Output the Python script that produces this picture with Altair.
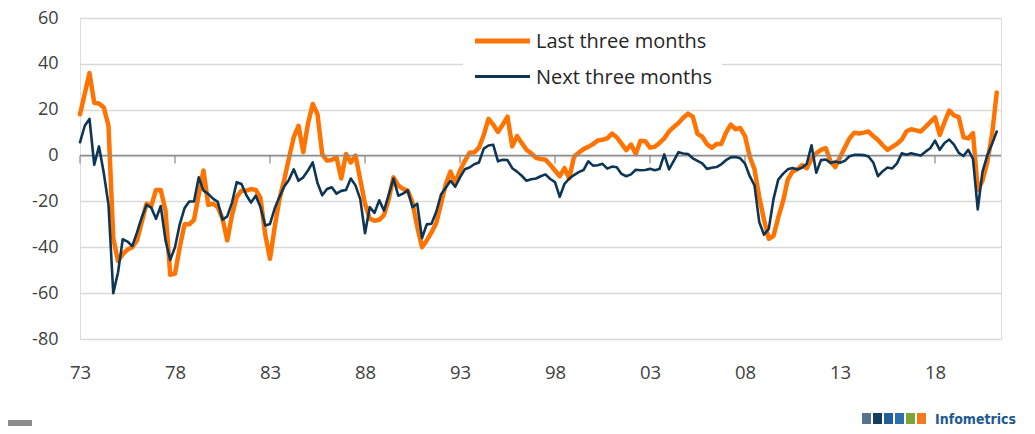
import altair as alt
import pandas as pd

START_YEAR = 1973  # first quarter = 1973 Q1, quarterly data

# "Last three months" (orange)
last_three = [
    18, 27, 36, 23,          # 1973
    22.7, 21, 13, -36,       # 1974
    -46, -43, -41, -40,      # 1975
    -37, -29, -21, -22,      # 1976
    -15, -15, -24, -52,      # 1977
    -51.5, -40, -30, -30,    # 1978
    -28, -17, -6.5, -21.5,   # 1979
    -21, -22.5, -27.5, -37,  # 1980
    -26, -18, -15.3, -15.3,  # 1981
    -14.6, -15, -18.5, -34.5,  # 1982
    -45, -31, -19, -10.5,    # 1983
    -1, 8, 13, 1.5,          # 1984
    14, 22.5, 18, 0.5,       # 1985
    -2.2, -1.9, -0.7, -10,   # 1986
    0.7, -3, 0, -10.5,       # 1987
    -21, -27.5, -28.4, -28,  # 1988
    -26, -19, -9.5, -13,     # 1989
    -14.5, -15.3, -20.5, -31,  # 1990
    -40, -37, -33.5, -29.5,  # 1991
    -21, -12.5, -7, -12,     # 1992
    -6.5, -2.4, 1.2, 1.4,    # 1993
    3.5, 9, 16, 13.5,        # 1994
    10.3, 13.5, 17, 4,       # 1995
    8.5, 5.5, 2.5, 1,        # 1996
    -1, -1.5, -1.8, -4,      # 1997
    -6.5, -9, -5.5, -10,     # 1998
    -0.5, 1.2, 2.8, 3.8,     # 1999
    5, 6.6, 6.9, 7.5,        # 2000
    9.6, 8, 5.2, 2.4,        # 2001
    4.8, 0.7, 6.5, 6.3,      # 2002
    3.5, 3.8, 5.5, 7.5,      # 2003
    10.5, 12.5, 14.2, 16.5,  # 2004
    18.3, 17, 9.5, 8.2,      # 2005
    5, 3.4, 5, 5,            # 2006
    10, 13.5, 11.5, 12,      # 2007
    8.5, -0.5, -6, -18,      # 2008
    -28, -36.3, -35, -27,    # 2009
    -20, -10.5, -7, -6,      # 2010
    -4.2, -5.5, -1.5, 1,     # 2011
    2.5, 3.3, -2.5, -5,      # 2012
    -0.7, 3.4, 7.5, 10,      # 2013
    9.6, 10, 10.5, 8.5,      # 2014
    6.8, 4.5, 2.5, 3.8,      # 2015
    5.1, 7, 10.6, 11.5,      # 2016
    11, 10.5, 12.5, 14.6,    # 2017
    16.7, 9, 14.6, 19.6,     # 2018
    17.5, 16.8, 8, 7.5,      # 2019
    9.8, -15, -11, -3,       # 2020
    9, 27.5,                 # 2021
]

# "Next three months" (navy)
next_three = [
    5.8, 13, 16, -4,         # 1973
    4, -7.5, -21.5, -60,     # 1974
    -51, -36.5, -37.5, -39.5,  # 1975
    -33.5, -27, -21.5, -22.7,  # 1976
    -27.6, -22, -37, -45.5,  # 1977
    -40, -30, -23, -20,      # 1978
    -20, -9.5, -15.3, -16.7,  # 1979
    -18.8, -20.2, -28, -26.5,  # 1980
    -20.5, -11.6, -12.4, -17.2,  # 1981
    -20.5, -17.5, -22.5, -30.5,  # 1982
    -29.8, -23, -18, -13.5,  # 1983
    -10.5, -6, -11, -9.5,    # 1984
    -6.5, -3, -12, -17.3,    # 1985
    -14.6, -13.8, -16.6, -15.4,  # 1986
    -15, -10, -13, -19,      # 1987
    -33.9, -22.5, -25, -19.5,  # 1988
    -24, -17, -10, -17.5,    # 1989
    -16.6, -15.2, -22.5, -21,  # 1990
    -36, -30, -29.7, -24.5,  # 1991
    -17, -14, -11, -13.6,    # 1992
    -9.5, -6, -5.2, -3.8,    # 1993
    -3, 3, 4.4, 4.7,         # 1994
    -2.5, -1.8, -2, -5.5,    # 1995
    -7, -8.8, -11, -10.3,    # 1996
    -10, -9, -8.2, -10.2,    # 1997
    -11.6, -18, -12.3, -10,  # 1998
    -8.5, -7.2, -6.3, -2.5,  # 1999
    -4.4, -4.2, -3.6, -5.7,  # 2000
    -4.8, -5.1, -8, -9,      # 2001
    -8.2, -6.2, -6.4, -6.3,  # 2002
    -5.8, -6.4, -5.9, 0.5,   # 2003
    -6, -2.3, 1.5, 0.9,      # 2004
    0.7, -1.2, -2.3, -3.4,   # 2005
    -5.8, -5.3, -5, -3.8,    # 2006
    -2, -0.8, -0.6, -1.2,    # 2007
    -3.5, -9, -13, -29,      # 2008
    -34.5, -32, -19, -10.5,  # 2009
    -8, -6, -5.4, -6.1,      # 2010
    -5.3, -3.6, 4.5, -7.5,   # 2011
    -2, -1.7, -3.2, -2.6,    # 2012
    -3.1, -2.3, -0.3, 0.3,   # 2013
    0.3, 0.2, -0.4, -3,      # 2014
    -9, -6.8, -5.2, -5.6,    # 2015
    -3.4, 1, 0.4, 1,         # 2016
    0.5, 0, 1.7, 3.2,        # 2017
    6.5, 2.5, 5.5, 7,        # 2018
    4.8, 1.2, -0.2, 2.5,     # 2019
    -1.5, -23.5, -7, 0,      # 2020
    5, 10.5,                 # 2021
]

tick_years = [1973, 1978, 1983, 1988, 1993, 1998, 2003, 2008, 2013, 2018]
y_ticks = [-80, -60, -40, -20, 0, 20, 40, 60]

ORANGE = "#FF7300"
NAVY = "#0D3656"
TEXT = "#404040"
FONT = "Open Sans"

W, H = 921, 321
XMAX = START_YEAR + W / 19.0


def frame(vals, name):
    return pd.DataFrame({
        "t": [START_YEAR + i / 4 for i in range(len(vals))],
        "v": vals,
        "series": name,
    })


df_last = frame(last_three, "Last three months")
df_next = frame(next_three, "Next three months")

x_enc = alt.X(
    "t:Q",
    title=None,
    scale=alt.Scale(domain=[START_YEAR, XMAX], nice=False, zero=False),
    axis=alt.Axis(
        values=tick_years, labelExpr="slice(toString(datum.value), 2)",
        grid=False, domain=False, ticks=False, tickSize=0, labelPadding=24,
        labelFont=FONT, labelFontSize=18.5, labelColor=TEXT, labelFlush=False,
    ),
)
y_enc = alt.Y(
    "v:Q",
    title=None,
    scale=alt.Scale(domain=[-80, 60], nice=False, zero=False),
    axis=alt.Axis(
        values=y_ticks, labelExpr="toString(datum.value)",
        grid=True, gridColor="#d9d9d9", gridWidth=1.3, domain=False,
        ticks=False, tickSize=0, labelPadding=22,
        labelFont=FONT, labelFontSize=18, labelColor=TEXT,
    ),
)

dummy = pd.DataFrame({"a": [0]})

legend_box = alt.Chart(dummy).mark_rect(color="white").encode(
    x=alt.value(383), x2=alt.value(642), y=alt.value(5), y2=alt.value(82)
)

zero_df = pd.DataFrame({"t": [START_YEAR], "v": [0]})
zero_line = alt.Chart(zero_df).mark_rule(color="#8a8a8a", strokeWidth=1.4).encode(
    y="v:Q"
)

ticks_df = pd.DataFrame({"t": tick_years, "v": [0] * len(tick_years),
                         "v2": [-3.5] * len(tick_years)})
tick_marks = alt.Chart(ticks_df).mark_rule(color="#8a8a8a", strokeWidth=1.2).encode(
    x="t:Q", y="v:Q", y2="v2:Q"
)

line_last = alt.Chart(df_last).mark_line(
    color=ORANGE, strokeWidth=4.5, strokeJoin="round", strokeCap="round"
).encode(x=x_enc, y=y_enc)

line_next = alt.Chart(df_next).mark_line(
    color=NAVY, strokeWidth=2.6, strokeJoin="round", strokeCap="round"
).encode(x="t:Q", y="v:Q")

leg_line1 = alt.Chart(dummy).mark_rule(color=ORANGE, strokeWidth=5).encode(
    x=alt.value(395), x2=alt.value(450), y=alt.value(23)
)
leg_line2 = alt.Chart(dummy).mark_rule(color=NAVY, strokeWidth=2.8).encode(
    x=alt.value(395), x2=alt.value(450), y=alt.value(58.5)
)
leg_text1 = alt.Chart(dummy).mark_text(
    text="Last three months", align="left", baseline="alphabetic",
    font=FONT, fontSize=20, color="#262626"
).encode(x=alt.value(456), y=alt.value(30))
leg_text2 = alt.Chart(dummy).mark_text(
    text="Next three months", align="left", baseline="alphabetic",
    font=FONT, fontSize=20, color="#262626"
).encode(x=alt.value(456), y=alt.value(66))

# Infometrics logo (decoration, bottom right)
logo_colors = ["#56728f", "#143c5f", "#215f9a", "#2e6fae", "#7aa63a", "#f27a1a"]
logo_df = pd.DataFrame({
    "x0": [782 + i * 11 for i in range(len(logo_colors))],
    "x1": [791 + i * 11 for i in range(len(logo_colors))],
    "c": logo_colors,
})
logo_squares = alt.Chart(logo_df).mark_rect().encode(
    x=alt.X("x0:Q", scale=None, axis=None),
    x2="x1:Q",
    y=alt.value(395), y2=alt.value(406),
    color=alt.Color("c:N", scale=None, legend=None),
)
logo_text = alt.Chart(dummy).mark_text(
    text="Infometrics", align="right", baseline="alphabetic",
    font="DejaVu Sans Condensed", fontWeight="bold", fontSize=14, color="#1f5a8e"
).encode(x=alt.value(936), y=alt.value(406))

corner = alt.Chart(dummy).mark_rect(color="#8c8c8c").encode(
    x=alt.value(-72), x2=alt.value(-48), y=alt.value(402), y2=alt.value(408)
)

chart = alt.layer(
    line_last, legend_box, zero_line, tick_marks, line_next,
    leg_line1, leg_line2, leg_text1, leg_text2,
    logo_squares, logo_text, corner,
).properties(
    width=W, height=H,
    autosize=alt.AutoSizeParams(type="none"),
    padding={"left": 72, "top": 10, "right": 26, "bottom": 87},
).configure_view(stroke=None).configure(background="white")

chart.save("out.html", embed_options={"renderer": "svg", "actions": False})
